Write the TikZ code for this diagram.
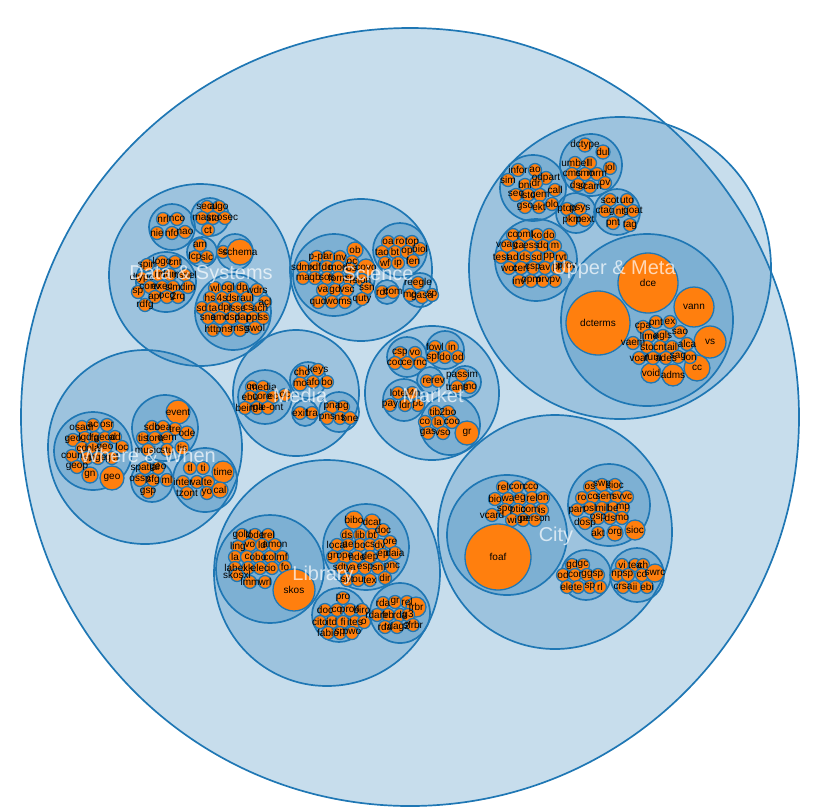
\documentclass[tikz,border=0pt]{standalone}
\usepackage{fontspec}
\setmainfont{Liberation Sans}
\definecolor{pb}{RGB}{31,119,180}
\definecolor{po}{RGB}{255,127,14}
\tikzset{
  grp/.style={draw=pb, fill=pb, fill opacity=0.25, line width=1.7pt},
  leafc/.style={draw=pb, fill=po, line width=1.3pt},
  lbl/.style={font=\fontsize{10}{10}\selectfont, text=black, inner sep=0pt},
  cat/.style={font=\fontsize{20}{22}\selectfont, text=white, text opacity=0.7, inner sep=0pt}
}
\newcommand\LeafCircles[1]{\foreach \x/\y/\r/\t in {#1} { \draw[leafc] (\x,\y) circle (\r pt); }}
\newcommand\LeafLabels[2]{\foreach \x/\y/\r/\t [count=\i] in {#2} { \node[lbl] (#1\i) at (\x,\y) {\t}; }}
\def\LeavesDS{163/219/6.5/nrl, 177/219/6.5/nco, 157/233/6.5/nie, 172/233/6.5/nfo, 185/232/6.5/nao,
207/207/6.5/secu, 219/207/6.5/algo, 202/218/6.5/mas, 213/218/6.5/sto, 225/218/6.5/cosec, 208/230/6.5/ct,
200/245/6.5/am, 195/257/6.5/lcp, 207/257/6.5/slc,
223/252/6.5/sc, 240/252/13/schema,
147/265/6.5/spin, 162/262/6.5/logo, 175/262/6.5/cnt, 142/278/6.5/dtype, 158/275/6.5/rr, 170/275/6.5/dqm, 185/275/6.5/nsnel,
138/292/6.5/sp, 150/287/6.5/conv, 162/287/6.5/exec, 173/287/6.5/sim, 188/287/6.5/dim, 155/297/6.5/api, 167/297/6.5/ocg, 178/297/6.5/2rq, 145/305/6.5/rdfg,
215/288/6.5/wl, 228/288/6.5/ogl, 242/288/6.5/dp, 257/290/6.5/wdrs,
210/298/6.5/hs, 222/298/6.5/4s, 233/298/6.5/dsr, 247/298/6.5/aul, 265/302/6.5/acl,
202/308/6.5/sd, 213/308/6.5/ta, 225/308/6.5/dpr, 237/308/6.5/isse, 248/308/6.5/cs, 260/308/6.5/ach,
208/318/6.5/sna, 220/318/6.5/emc, 232/318/6.5/dsp, 243/318/6.5/dap, 253/318/6.5/ppl, 263/318/6.5/ss,
213/330/6.5/http, 227/330/6.5/ns, 240/330/6.5/msg, 255/328/6.5/swol}
\def\LeavesUM{518/170/6.5/infor, 535/170/6.5/ao, 508/180/6.5/sim, 546/178/6.5/odpart, 525/185/6.5/bni, 536/183/6.5/dr,
516/195/6.5/seq, 528/195/6.5/isto, 540/195/6.5/cem, 555/190/6.5/call, 525/207/6.5/gso, 539/207/6.5/ekt, 552/204/6.5/olo,
585/145/7/dctype, 603/152/7/dul, 575/163/6.5/umbel, 590/163/6.5/ll, 610/168/6.5/jol, 572/174/6.5/cms, 585/174/6.5/cmo, 597/174/6.5/mrm,
578/185/6.5/dso, 590/187/6.5/scam, 605/183/6.5/ov,
567/209/6.5/ptop, 580/209/6.5/psys, 572/220/6.5/pkm, 585/220/6.5/pext,
610/200/6.5/scot, 627/200/6.5/uto, 605/211/6.5/ctag, 620/211/6.5/nt, 633/211/6.5/goat, 613/223/6.5/pnt, 630/225/6.5/tag,
513/235/6.5/co, 525/235/6.5/pml, 537/235/6.5/ko, 549/235/6.5/do,
507/246/6.5/voag, 519/246/6.5/ca, 531/246/6.5/ess, 543/246/6.5/dq, 555/246/6.5/m,
501/257/6.5/test, 513/257/6.5/ad, 525/257/6.5/ds, 537/257/6.5/sd, 549/257/6.5/pp, 561/257/6.5/rvt,
509/268/6.5/wot, 521/268/6.5/cert, 533/268/6.5/csp, 545/268/6.5/av, 557/268/6.5/pr, 567/267/6.5/prov,
519/281/6.5/inv, 531/281/6.5/opm, 543/281/6.5/prv, 555/281/6.5/pv,
648/283/30/dce, 598/323/32/dcterms, 694/307/20/vann, 710/342/16/vs, 697/368/13/cc, 673/375/11/adms, 651/373/10/void,
656/322/6.5/ont, 670/322/6.5/ex, 643/327/6.5/cpa, 649/336/6.5/lime, 663/336/6.5/agls, 680/332/6.5/sao,
633/343/6.5/vaem, 647/347/6.5/sto, 660/347/6.5/cnt, 672/347/6.5/ail, 687/344/6.5/alca,
639/358/6.5/voaf, 653/358/6.5/rum, 666/358/6.5/ades, 678/357/6.5/sag, 690/357/6.5/ion}
\def\LeavesSC{317/257/6.5/p-pl, 328/257/6.5/ar, 340/257/6.5/inv, 355/250/8/ob, 352/262/6.5/oc,
303/267/6.5/sdmx, 315/267/6.5/rdf, 327/267/6.5/dc, 338/267/6.5/mod, 350/269/6.5/ros, 366/268/9/covo,
303/278/6.5/ma, 315/278/6.5/qb, 327/278/6.5/sos, 338/278/6.5/form, 350/280/6.5/sp, 362/280/6.5/sion,
323/290/6.5/va, 335/290/6.5/gd, 347/290/6.5/vsc, 367/288/6.5/ssn,
318/302/6.5/qud, 332/302/6.5/wo, 345/302/6.5/ms, 362/299/6.5/quty,
388/242/6.5/oa, 400/242/6.5/ro, 412/242/6.5/top, 420/249/6.5/biol,
382/252/6.5/tao, 395/252/6.5/bt, 407/252/6.5/op,
385/263/6.5/wf, 398/263/6.5/ip, 413/261/6.5/fen,
382/292/6.5/rdf, 393/292/6.5/com,
418/283/6.5/reegle, 410/295/6.5/mo, 422/297/6.5/gaso, 432/295/6.5/sp}
\def\LeavesME{252/387/6.5/co, 263/387/6.5/media, 250/397/6.5/ebu, 262/397/6.5/core, 273/397/6.5/ec, 285/395/6.5/oc,
245/408/6.5/bein, 257/408/6.5/ma, 268/408/6.5/gle-ont,
302/372/6.5/cho, 318/370/6.5/keys, 300/384/7/mo, 313/382/6.5/afo, 327/382/6.5/bo,
300/413/6.5/exif, 312/413/6.5/tra,
332/407/6.5/pna, 343/407/6.5/pg, 327/418/6.5/pns, 340/418/6.5/ns, 350/418/6.5/bne}
\def\LeavesMA{400/353/6.5/csp, 415/353/6.5/vo, 395/363/6.5/coo, 407/363/6.5/ce, 420/363/6.5/rnc,
435/347/6.5/fowl, 452/347/6.5/in, 433/357/6.5/spf, 445/357/6.5/do, 458/357/6.5/od,
427/381/6.5/re, 438/381/6.5/rev,
462/375/6.5/passim, 457/387/6.5/trans, 470/387/6.5/mo,
398/393/6.5/lote, 412/393/6.5/d4n, 390/405/6.5/pay, 405/405/6.5/ldr, 418/405/6.5/pc,
435/412/6.5/tib, 448/412/6.5/2bo, 425/422/6.5/co, 438/422/6.5/la, 452/422/6.5/coo,
428/433/6.5/gas, 443/433/6.5/vso, 467/433/12/gr}
\def\LeavesWW{82/427/6.5/osadr, 93/425/6.5/ac, 107/425/6.5/osr,
73/440/6.5/geo, 85/438/6.5/lgd, 95/438/6.5/fa, 105/438/6.5/geod, 115/437/6.5/ad,
82/448/6.5/cd, 93/448/6.5/ola, 105/448/6.5/geo, 122/447/6.5/loc,
72/456/6.5/coun, 87/458/6.5/st, 98/458/6.5/bge, 112/458/6.5/gcf,
77/467/6.5/geop, 90/475/8/gn, 112/478/12/geo,
178/412/12/event, 152/427/6.5/sdo, 163/427/6.5/bea, 175/429/6.5/tre, 187/433/7/ode,
143/438/6.5/tis, 155/438/6.5/tora, 167/438/6.5/eem,
148/450/6.5/music, 167/450/6.5/stu, 182/448/7/tis,
145/468/6.5/spatial, 158/468/6.5/geo, 140/480/6.5/ossp, 153/480/6.5/sfg, 167/480/6.5/ml, 148/492/6.5/gsp,
190/468/6.5/tl, 203/468/6.5/ti, 223/472/11/time, 183/482/6.5/inter, 197/482/6.5/val, 208/482/6.5/te,
187/493/6.5/tzont, 207/493/6.5/yo, 220/490/8/cal}
\def\LeavesLI{242/535/6.5/gold, 255/535/6.5/lode, 268/535/6.5/trel,
238/547/6.5/ling, 250/545/6.5/vo, 262/545/6.5/ld, 275/545/6.5/amon,
235/557/6.5/la, 247/557/6.5/c, 258/557/6.5/obo, 270/557/6.5/col, 282/557/6.5/mf,
235/568/6.5/label, 248/568/6.5/xk, 260/568/6.5/elec, 272/568/6.5/io, 285/567/6.5/fo,
237/575/6.5/skosxl, 250/582/6.5/lmm, 265/582/6.5/wrl, 294/590/21/skos,
354/520/9/bibo, 372/522/8/dcat,
347/535/6.5/ds, 360/535/6.5/lib, 372/535/6.5/bt, 383/530/6.5/doc,
337/545/6.5/local, 348/545/6.5/ae, 360/545/6.5/bo, 370/545/6.5/cs, 380/545/6.5/dv, 390/542/6.5/ore,
333/557/6.5/gn, 345/557/6.5/ope, 357/557/6.5/nde, 370/557/6.5/dep, 383/555/6.5/ep, 395/553/6.5/daia,
342/568/6.5/sdty, 353/568/6.5/a, 365/568/6.5/esp, 378/568/6.5/sn, 392/567/6.5/pnc,
347/580/6.5/spt, 358/580/6.5/ou, 370/580/6.5/tex, 385/578/6.5/dir,
343/598/6.5/pro, 325/610/6.5/doc, 337/610/6.5/co, 350/610/6.5/pro4, 362/610/6.5/biro,
320/622/6.5/cito, 332/622/6.5/itd, 343/622/6.5/fi, 355/622/6.5/ites, 364/622/6.5/o,
328/633/6.5/fabio, 340/633/6.5/sp, 352/633/6.5/pwo,
383/603/6.5/rda, 395/602/6.5/gr, 407/602/6.5/rel, 416/607/10/frbr,
377/615/6.5/rdare, 388/615/6.5/frb, 400/615/6.5/rda, 408/615/6.5/g3,
385/627/6.5/rda, 397/627/6.5/rdag2, 413/625/6.5/sfrbr}
\def\LeavesCI{503/487/6.5/rel, 517/487/6.5/con, 531/487/6.5/cco,
495/499/6.5/bio, 508/499/6.5/wa, 520/499/6.5/eg, 532/498/6.5/rel, 543/498/6.5/on,
505/510/6.5/spo, 518/510/6.5/ptio, 530/510/6.5/com, 542/510/6.5/is,
492/515/6.5/vcard, 512/520/6.5/wi, 523/520/6.5/ge, 535/520/6.5/person,
498/557/33/foaf,
590/487/6.5/os, 602/485/6.5/swp, 615/485/6.5/sioc,
582/498/6.5/ro, 593/497/6.5/co, 605/497/6.5/sem, 617/497/6.5/sv, 627/497/6.5/vc,
577/510/6.5/part, 590/508/6.5/osl, 602/508/6.5/mil, 613/508/6.5/be, 623/508/6.5/mp,
585/523/6.5/dosp, 598/518/6.5/osp, 610/518/6.5/ds, 622/518/6.5/mo,
598/533/6.5/akt, 615/533/8/org, 635/530/10/sioc,
572/565/6.5/gd, 583/565/6.5/gc,
563/575/6.5/od, 575/575/6.5/cor, 587/575/6.5/gg, 598/575/6.5/sp,
567/587/6.5/ele, 578/587/6.5/te, 590/587/6.5/sp, 600/587/6.5/rl,
622/565/6.5/vi, 635/565/6.5/tea, 643/565/6.5/ch,
617/575/6.5/np, 628/575/6.5/sp, 642/575/6.5/co, 655/573/9/swrc,
623/587/6.5/crsa, 635/587/6.5/ii, 647/587/6.5/ebi}
\begin{document}
\begin{tikzpicture}[x=1pt,y=-1pt]
\useasboundingbox (0,0) rectangle (821,807);
\foreach \x/\y/\r in {410/417/389,
620/268/151, 200/275/91, 361/270/71, 296/393/63, 432/393/67, 145/447/97, 327/573/113, 555/532/117,
533/188/33, 591/165/31, 576/213/20, 617/212/23, 536/260/41, 647/320/86,
172/227/23, 210/217/19, 202/252/15, 235/252/18, 166/282/30, 233/312/38,
334/275/41, 400/250/27, 387/292/12, 420/290/17,
265/397/27, 308/380/18, 305/413/13, 339/412/20,
407/357/20, 445/350/19, 430/380/13, 465/382/16, 404/400/21, 450/425/30,
93/451/39, 165/428/33, 152/481/21, 205/480/32,
270/569/54, 366/547/43, 339/615/27, 400/613/30,
507/535/60, 609/505/41, 586/575/25, 637/575/27} { \draw[grp] (\x,\y) circle (\r pt); }
\expandafter\LeafCircles\expandafter{\LeavesDS}
\expandafter\LeafCircles\expandafter{\LeavesUM}
\expandafter\LeafCircles\expandafter{\LeavesSC}
\expandafter\LeafCircles\expandafter{\LeavesME}
\expandafter\LeafCircles\expandafter{\LeavesMA}
\expandafter\LeafCircles\expandafter{\LeavesWW}
\expandafter\LeafCircles\expandafter{\LeavesLI}
\expandafter\LeafCircles\expandafter{\LeavesCI}
\expandafter\LeafLabels\expandafter{\expandafter d\expandafter s\expandafter}\expandafter{\LeavesDS}
\expandafter\LeafLabels\expandafter{\expandafter u\expandafter m\expandafter}\expandafter{\LeavesUM}
\expandafter\LeafLabels\expandafter{\expandafter s\expandafter c\expandafter}\expandafter{\LeavesSC}
\expandafter\LeafLabels\expandafter{\expandafter m\expandafter e\expandafter}\expandafter{\LeavesME}
\expandafter\LeafLabels\expandafter{\expandafter m\expandafter a\expandafter}\expandafter{\LeavesMA}
\expandafter\LeafLabels\expandafter{\expandafter w\expandafter w\expandafter}\expandafter{\LeavesWW}
\expandafter\LeafLabels\expandafter{\expandafter l\expandafter i\expandafter}\expandafter{\LeavesLI}
\expandafter\LeafLabels\expandafter{\expandafter c\expandafter i\expandafter}\expandafter{\LeavesCI}
\node[cat] (cUM) at (614,270) {Upper \& Meta};
\node[cat] (cDS) at (201,275) {Data \& Systems};
\node[cat] (cSC) at (378,273) {Science};
\node[cat] (cME) at (300,395) {Media};
\node[cat] (cMA) at (433,395) {Market};
\node[cat] (cWW) at (148,455) {Where \& When};
\node[cat] (cLI) at (323,575) {Library};
\node[cat] (cCI) at (556,536) {City};
\end{tikzpicture}
\end{document}
